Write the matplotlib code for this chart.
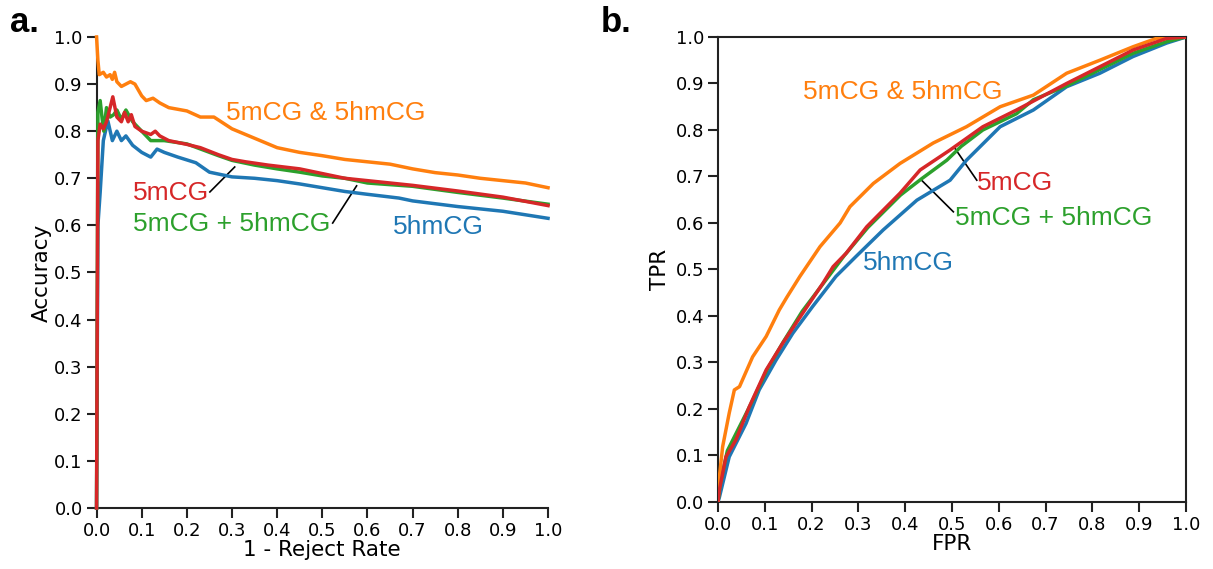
import matplotlib
matplotlib.use("Agg")
import matplotlib.pyplot as plt

# ---------------- Panel a: accuracy vs 1 - reject rate ----------------
acc_x_orange = [0.0, 0.003, 0.006, 0.015, 0.022, 0.03, 0.035, 0.04, 0.045, 0.055, 0.065, 0.075,
                0.085, 0.1, 0.11, 0.125, 0.14, 0.16, 0.2, 0.23, 0.26, 0.3, 0.35, 0.4, 0.45, 0.5,
                0.55, 0.6, 0.65, 0.7, 0.75, 0.8, 0.85, 0.9, 0.95, 1.0]
acc_y_orange = [1.0, 0.95, 0.92, 0.925, 0.915, 0.92, 0.91, 0.925, 0.905, 0.895, 0.9, 0.905,
                0.9, 0.875, 0.865, 0.87, 0.86, 0.85, 0.843, 0.83, 0.83, 0.805, 0.785, 0.765, 0.755, 0.748,
                0.74, 0.735, 0.73, 0.72, 0.712, 0.707, 0.70, 0.695, 0.69, 0.68]

acc_x_red = [0.0, 0.003, 0.008, 0.015, 0.022, 0.03, 0.036, 0.045, 0.055, 0.062, 0.07, 0.077, 0.085,
             0.1, 0.12, 0.13, 0.14, 0.16, 0.2, 0.23, 0.27, 0.3, 0.33, 0.38, 0.45, 0.5, 0.55, 0.6,
             0.7, 0.8, 0.9, 1.0]
acc_y_red = [0.0, 0.78, 0.815, 0.805, 0.82, 0.85, 0.873, 0.83, 0.82, 0.84, 0.82, 0.835, 0.81,
             0.80, 0.793, 0.80, 0.79, 0.78, 0.772, 0.765, 0.75, 0.74, 0.735, 0.728, 0.72, 0.71, 0.70, 0.695,
             0.685, 0.673, 0.66, 0.642]

acc_x_green = [0.0, 0.003, 0.008, 0.012, 0.016, 0.022, 0.03, 0.038, 0.045, 0.055, 0.065, 0.08,
               0.1, 0.12, 0.15, 0.2, 0.27, 0.3, 0.35, 0.4, 0.45, 0.5, 0.55, 0.6, 0.7, 0.8, 0.9, 1.0]
acc_y_green = [0.0, 0.84, 0.865, 0.83, 0.80, 0.85, 0.83, 0.835, 0.845, 0.825, 0.845, 0.82,
               0.80, 0.78, 0.78, 0.773, 0.748, 0.738, 0.728, 0.72, 0.713, 0.705, 0.70, 0.69, 0.683, 0.67, 0.658, 0.645]

acc_x_blue = [0.0, 0.003, 0.008, 0.015, 0.025, 0.035, 0.045, 0.055, 0.065, 0.08, 0.1, 0.12,
              0.134, 0.15, 0.18, 0.22, 0.25, 0.3, 0.35, 0.4, 0.45, 0.5, 0.55, 0.6, 0.67, 0.7,
              0.8, 0.9, 1.0]
acc_y_blue = [0.0, 0.6, 0.67, 0.78, 0.822, 0.78, 0.80, 0.78, 0.79, 0.77, 0.755, 0.745,
              0.762, 0.755, 0.745, 0.733, 0.713, 0.703, 0.70, 0.695, 0.688, 0.68, 0.672, 0.666, 0.658, 0.652,
              0.64, 0.63, 0.615]

# ---------------- Panel b: ROC ----------------
roc_x_orange = [0.0, 0.003, 0.01, 0.024, 0.035, 0.046, 0.074, 0.103, 0.131, 0.147, 0.175, 0.218,
                0.261, 0.282, 0.332, 0.389, 0.46, 0.531, 0.603, 0.674, 0.745, 0.816, 0.887, 0.937, 1.0]
roc_y_orange = [0.0, 0.054, 0.119, 0.191, 0.241, 0.248, 0.312, 0.356, 0.413, 0.44, 0.485, 0.549,
                0.60, 0.635, 0.685, 0.728, 0.772, 0.807, 0.85, 0.875, 0.922, 0.95, 0.979, 0.997, 1.0]

roc_x_red = [0.0, 0.003, 0.017, 0.038, 0.067, 0.103, 0.138, 0.181, 0.224, 0.246, 0.274, 0.318,
             0.389, 0.432, 0.496, 0.566, 0.638, 0.745, 0.816, 0.887, 0.959, 1.0]
roc_y_red = [0.0, 0.026, 0.097, 0.133, 0.205, 0.284, 0.341, 0.406, 0.47, 0.506, 0.535, 0.592,
             0.664, 0.714, 0.757, 0.807, 0.843, 0.90, 0.936, 0.972, 0.997, 1.0]

roc_x_green = [0.0, 0.005, 0.02, 0.04, 0.07, 0.105, 0.14, 0.18, 0.225, 0.27, 0.32, 0.39, 0.435,
               0.489, 0.52, 0.566, 0.638, 0.674, 0.745, 0.816, 0.887, 0.959, 1.0]
roc_y_green = [0.0, 0.04, 0.11, 0.15, 0.21, 0.285, 0.345, 0.41, 0.47, 0.53, 0.59, 0.66, 0.695,
               0.735, 0.765, 0.80, 0.835, 0.865, 0.895, 0.93, 0.965, 0.99, 1.0]

roc_x_blue = [0.0, 0.003, 0.024, 0.06, 0.088, 0.124, 0.16, 0.202, 0.252, 0.295, 0.353, 0.425,
              0.496, 0.531, 0.603, 0.674, 0.745, 0.816, 0.887, 0.959, 1.0]
roc_y_blue = [0.0, 0.01, 0.097, 0.169, 0.241, 0.305, 0.363, 0.42, 0.485, 0.528, 0.585, 0.649,
              0.692, 0.735, 0.807, 0.843, 0.893, 0.922, 0.958, 0.987, 1.0]

ticks = [0.0, 0.1, 0.2, 0.3, 0.4, 0.5, 0.6, 0.7, 0.8, 0.9, 1.0]
tick_labels = ["0.0", "0.1", "0.2", "0.3", "0.4", "0.5", "0.6", "0.7", "0.8", "0.9", "1.0"]

C_OR, C_RD, C_GR, C_BL = "#ff7f0e", "#d62728", "#2ca02c", "#1f77b4"
LW = 2.5
ANN = dict(family="Liberation Sans", fontsize=19)

fig = plt.figure(figsize=(12.13, 5.69), dpi=100)
axa = fig.add_axes([0.0796, 0.1072, 0.3722, 0.8278])
axb = fig.add_axes([0.5919, 0.1178, 0.3858, 0.8172])

for ax in (axa, axb):
    ax.set_xlim(0, 1)
    ax.set_ylim(0, 1)
    ax.set_xticks(ticks)
    ax.set_xticklabels(tick_labels)
    ax.set_yticks(ticks)
    ax.set_yticklabels(tick_labels)
    ax.tick_params(direction="out", length=7, width=1.5, labelsize=13, pad=3, color="#222222")
    for s in ax.spines.values():
        s.set_linewidth(1.5)
        s.set_color("#222222")

axa.spines["top"].set_visible(False)
axa.spines["right"].set_visible(False)

# panel a lines
axa.plot(acc_x_blue, acc_y_blue, color=C_BL, lw=LW, clip_on=False, zorder=3)
axa.plot(acc_x_green, acc_y_green, color=C_GR, lw=LW, clip_on=False, zorder=3)
axa.plot(acc_x_red, acc_y_red, color=C_RD, lw=LW, clip_on=False, zorder=4)
axa.plot(acc_x_orange, acc_y_orange, color=C_OR, lw=LW, clip_on=False, zorder=3)

axa.set_xlabel("1 - Reject Rate", fontsize=15.5, labelpad=0)
axa.set_ylabel("Accuracy", fontsize=15.5, labelpad=2)

axa.text(0.287, 0.839, "5mCG & 5hmCG", color=C_OR, va="center", ha="left", **ANN)
axa.text(0.08, 0.669, "5mCG", color=C_RD, va="center", ha="left", **ANN)
axa.text(0.08, 0.603, "5mCG + 5hmCG", color=C_GR, va="center", ha="left", **ANN)
axa.text(0.656, 0.597, "5hmCG", color=C_BL, va="center", ha="left", **ANN)
axa.plot([0.251, 0.306], [0.671, 0.724], color="black", lw=1.2)
axa.plot([0.523, 0.576], [0.605, 0.684], color="black", lw=1.2)

# panel b lines
axb.plot(roc_x_blue, roc_y_blue, color=C_BL, lw=LW, zorder=3)
axb.plot(roc_x_green, roc_y_green, color=C_GR, lw=LW, zorder=3)
axb.plot(roc_x_red, roc_y_red, color=C_RD, lw=LW, zorder=4)
axb.plot(roc_x_orange, roc_y_orange, color=C_OR, lw=LW, zorder=3)

axb.set_xlabel("FPR", fontsize=15.5, labelpad=0)
axb.set_ylabel("TPR", fontsize=15.5, labelpad=4)

axb.text(0.182, 0.882, "5mCG & 5hmCG", color=C_OR, va="center", ha="left", **ANN)
axb.text(0.553, 0.686, "5mCG", color=C_RD, va="center", ha="left", **ANN)
axb.text(0.506, 0.61, "5mCG + 5hmCG", color=C_GR, va="center", ha="left", **ANN)
axb.text(0.31, 0.513, "5hmCG", color=C_BL, va="center", ha="left", **ANN)
axb.plot([0.506, 0.553], [0.761, 0.692], color="black", lw=1.2)
axb.plot([0.435, 0.503], [0.692, 0.624], color="black", lw=1.2)

fig.text(0.008, 0.99, "a.", fontsize=25, fontweight="bold", family="Liberation Sans", va="top")
fig.text(0.495, 0.99, "b.", fontsize=25, fontweight="bold", family="Liberation Sans", va="top")

fig.savefig("out.png", dpi=100)
